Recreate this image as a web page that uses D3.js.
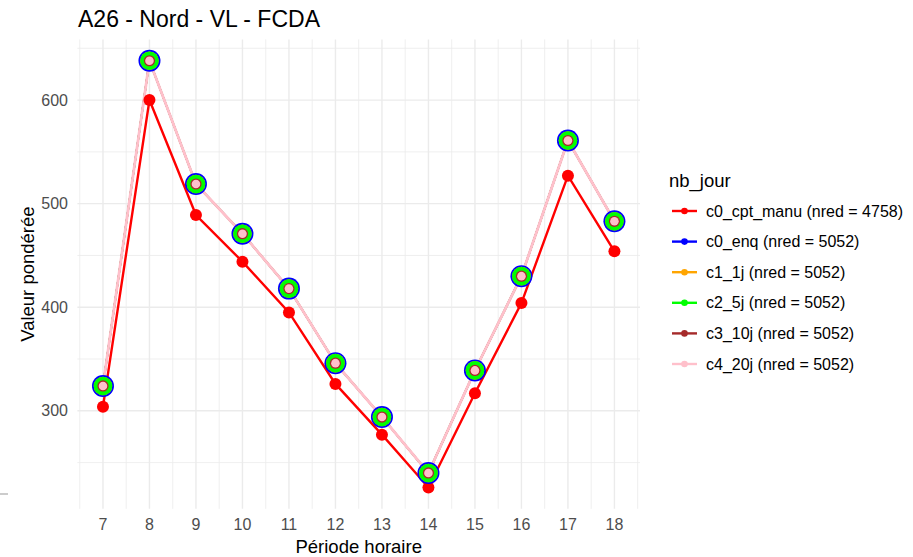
<!DOCTYPE html>
<html>
<head>
<meta charset="utf-8">
<script src="https://cdn.jsdelivr.net/npm/d3@7"></script>
<style>
  body { margin: 0; background: #fff; }
  text { font-family: "Liberation Sans", Arial, sans-serif; }
</style>
</head>
<body>
<script>
const hours = [7, 8, 9, 10, 11, 12, 13, 14, 15, 16, 17, 18];
const manuValues = [304, 600, 489, 444, 395, 326, 277, 226, 317, 404, 527, 454];
const enqValues = [324, 638, 519, 471, 418, 346, 294, 240, 339, 430, 561, 483];
const seriesNames = ["c0_cpt_manu", "c0_enq", "c1_1j", "c2_5j", "c3_10j", "c4_20j"];
const seriesNred = [4758, 5052, 5052, 5052, 5052, 5052];
const seriesColors = ["#FF0000", "#0000FF", "#FFA500", "#00FF00", "#A52A2A", "#FFC0CB"];
const yTicks = [300, 400, 500, 600];

// the five day-count series share the same values
const seriesValues = [manuValues, enqValues, enqValues, enqValues, enqValues, enqValues];
const pointRadius = [6, 11, 9.3, 9.3, 5.6, 4.3];
const lineWidth = [2.4, 1.8, 1.8, 1.8, 1.8, 2.8];

const width = 913;
const height = 557;

const svg = d3.select("body")
    .append("svg")
    .attr("width", width)
    .attr("height", height);

// ggplot-like expansion (5%)
const xExt = d3.extent(hours);
const xPad = (xExt[1] - xExt[0]) * 0.05;
const allVals = seriesValues.flat();
const yExt = d3.extent(allVals);
const yPad = (yExt[1] - yExt[0]) * 0.05;

const x = d3.scaleLinear()
    .domain([xExt[0] - xPad, xExt[1] + xPad])
    .range([77.4, 640]);

const y = d3.scaleLinear()
    .domain([yExt[0] - yPad, yExt[1] + yPad])
    .range([508.8, 39.4]);

const grid = svg.append("g");

// minor gridlines
const xMinor = hours.slice(0, -1).map(h => h + 0.5).concat([hours[0] - 0.5, hours[hours.length - 1] + 0.5]);
grid.selectAll(".xminor")
    .data(xMinor)
    .enter()
    .append("line")
    .attr("x1", d => x(d)).attr("x2", d => x(d))
    .attr("y1", y.range()[0]).attr("y2", y.range()[1])
    .style("stroke", "#EBEBEB")
    .style("stroke-width", 0.8);

const yMinor = [250, 350, 450, 550, 650];
grid.selectAll(".yminor")
    .data(yMinor)
    .enter()
    .append("line")
    .attr("x1", x.range()[0]).attr("x2", x.range()[1])
    .attr("y1", d => y(d)).attr("y2", d => y(d))
    .style("stroke", "#EBEBEB")
    .style("stroke-width", 0.8);

// major gridlines
grid.selectAll(".xmajor")
    .data(hours)
    .enter()
    .append("line")
    .attr("x1", d => x(d)).attr("x2", d => x(d))
    .attr("y1", y.range()[0]).attr("y2", y.range()[1])
    .style("stroke", "#EBEBEB")
    .style("stroke-width", 1.4);

grid.selectAll(".ymajor")
    .data(yTicks)
    .enter()
    .append("line")
    .attr("x1", x.range()[0]).attr("x2", x.range()[1])
    .attr("y1", d => y(d)).attr("y2", d => y(d))
    .style("stroke", "#EBEBEB")
    .style("stroke-width", 1.4);

// tick labels
svg.selectAll(".xlab")
    .data(hours)
    .enter()
    .append("text")
    .attr("x", d => x(d))
    .attr("y", 530)
    .attr("text-anchor", "middle")
    .style("font-size", "16px")
    .style("fill", "#4D4D4D")
    .text(d => d);

svg.selectAll(".ylab")
    .data(yTicks)
    .enter()
    .append("text")
    .attr("x", 68)
    .attr("y", d => y(d) + 5.5)
    .attr("text-anchor", "end")
    .style("font-size", "16px")
    .style("fill", "#4D4D4D")
    .text(d => d);

// lines
const line = d3.line()
    .x((d, i) => x(hours[i]))
    .y(d => y(d));

svg.selectAll(".series")
    .data(seriesValues)
    .enter()
    .append("path")
    .attr("d", d => line(d))
    .style("fill", "none")
    .style("stroke", (d, i) => seriesColors[i])
    .style("stroke-width", (d, i) => lineWidth[i]);

// points
seriesValues.forEach(function (vals, s) {
    svg.append("g")
        .selectAll("circle")
        .data(vals)
        .enter()
        .append("circle")
        .attr("cx", (d, i) => x(hours[i]))
        .attr("cy", d => y(d))
        .attr("r", pointRadius[s])
        .style("fill", seriesColors[s]);
});

// title
svg.append("text")
    .attr("x", 78)
    .attr("y", 27)
    .style("font-size", "23px")
    .style("fill", "#000")
    .text("A26 - Nord - VL - FCDA");

// axis titles
svg.append("text")
    .attr("x", (x.range()[0] + x.range()[1]) / 2)
    .attr("y", 553)
    .attr("text-anchor", "middle")
    .style("font-size", "18.5px")
    .style("fill", "#000")
    .text("Période horaire");

svg.append("text")
    .attr("transform", "translate(34," + ((y.range()[0] + y.range()[1]) / 2) + ") rotate(-90)")
    .attr("text-anchor", "middle")
    .style("font-size", "18.5px")
    .style("fill", "#000")
    .text("Valeur pondérée");

// legend
const legend = svg.append("g");

legend.append("text")
    .attr("x", 669)
    .attr("y", 187)
    .style("font-size", "18.5px")
    .style("fill", "#000")
    .text("nb_jour");

const legendRows = legend.selectAll(".row")
    .data(seriesNames)
    .enter()
    .append("g")
    .attr("transform", (d, i) => "translate(0," + (211 + i * 30.6) + ")");

legendRows.append("line")
    .attr("x1", 672).attr("x2", 697)
    .attr("y1", 0).attr("y2", 0)
    .style("stroke", (d, i) => seriesColors[i])
    .style("stroke-width", 2.4);

legendRows.append("circle")
    .attr("cx", 684.5)
    .attr("cy", 0)
    .attr("r", 3.3)
    .style("fill", (d, i) => seriesColors[i]);

legendRows.append("text")
    .attr("x", 706)
    .attr("y", 5.5)
    .style("font-size", "16px")
    .style("fill", "#000")
    .text((d, i) => d + " (nred = " + seriesNred[i] + ")");

// small stray tick mark at the left border
svg.append("line")
    .attr("x1", 0).attr("x2", 8)
    .attr("y1", 494).attr("y2", 494)
    .style("stroke", "#BBBBBB")
    .style("stroke-width", 1.5);
</script>
</body>
</html>
